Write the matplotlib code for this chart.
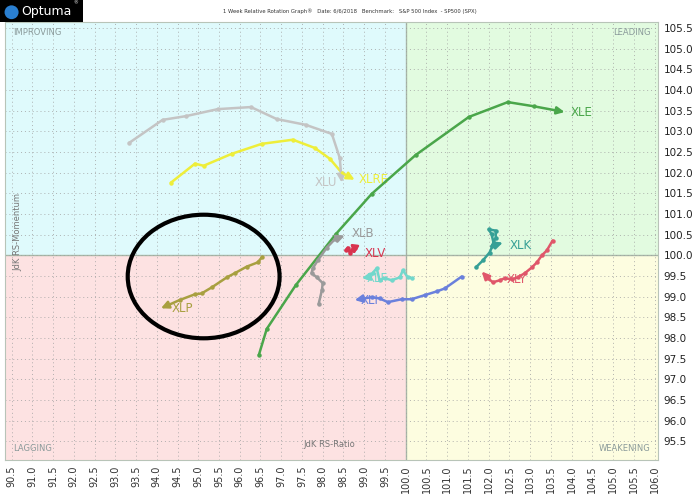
import matplotlib
matplotlib.use("Agg")
import matplotlib.pyplot as plt
from matplotlib.patches import Rectangle, Ellipse

# ---------------- data ----------------
x_ticks = [90.5 + 0.5 * i for i in range(32)]
y_ticks = [95.5 + 0.5 * i for i in range(21)]

XLE_x = [96.46, 96.65, 97.35, 98.31, 99.18, 100.24, 101.52, 102.46, 103.08, 103.83]
XLE_y = [97.59, 98.22, 99.28, 100.51, 101.49, 102.43, 103.35, 103.71, 103.61, 103.47]

XLU_x = [93.33, 94.14, 94.70, 95.47, 96.27, 96.89, 97.59, 98.22, 98.41, 98.46]
XLU_y = [102.72, 103.28, 103.37, 103.54, 103.59, 103.30, 103.16, 102.94, 102.36, 101.76]

XLRE_x = [94.34, 94.92, 95.13, 95.81, 96.53, 97.28, 97.81, 98.17, 98.46, 98.77]
XLRE_y = [101.76, 102.22, 102.17, 102.46, 102.70, 102.80, 102.60, 102.34, 102.00, 101.83]

XLB_x = [97.90, 97.98, 98.00, 97.86, 97.73, 97.76, 97.88, 98.10, 98.29, 98.53]
XLB_y = [98.82, 99.16, 99.33, 99.47, 99.57, 99.69, 99.88, 100.19, 100.39, 100.48]

XLV_x = [98.55, 98.60, 98.65, 98.70, 98.77, 98.75]
XLV_y = [100.12, 100.19, 100.07, 100.14, 100.19, 100.02]

XLF_x = [100.14, 100.05, 99.93, 99.86, 99.66, 99.49, 99.37, 99.30, 99.20, 99.06, 98.94]
XLF_y = [99.45, 99.47, 99.64, 99.47, 99.40, 99.45, 99.40, 99.69, 99.57, 99.47, 99.45]

XLI_x = [101.35, 100.94, 100.75, 100.46, 100.14, 99.90, 99.57, 99.37, 99.18, 98.77]
XLI_y = [99.49, 99.20, 99.13, 99.04, 98.94, 98.94, 98.87, 98.96, 98.99, 98.92]

XLK_x = [101.69, 101.86, 102.02, 102.12, 102.07, 102.00, 102.17, 102.17, 102.07, 102.34]
XLK_y = [99.71, 99.88, 100.07, 100.29, 100.51, 100.63, 100.60, 100.43, 100.22, 100.31]

XLY_x = [103.54, 103.40, 103.28, 103.16, 103.04, 102.87, 102.70, 102.55, 102.39, 102.27, 102.10, 101.98, 101.83]
XLY_y = [100.36, 100.12, 100.00, 99.83, 99.71, 99.57, 99.47, 99.42, 99.45, 99.40, 99.35, 99.45, 99.61]

XLP_x = [96.53, 96.43, 96.17, 95.88, 95.69, 95.33, 95.08, 94.92, 94.55, 94.10]
XLP_y = [99.95, 99.83, 99.73, 99.57, 99.47, 99.23, 99.08, 99.06, 98.92, 98.72]

series = [
    ("XLE", XLE_x, XLE_y, "#4aa64a", (0.15, 0.0), "left"),
    ("XLU", XLU_x, XLU_y, "#c4c4c4", (-0.12, 0.0), "right"),
    ("XLRE", XLRE_x, XLRE_y, "#eeee3a", (0.1, 0.0), "left"),
    ("XLB", XLB_x, XLB_y, "#9a9a9a", (0.17, 0.05), "left"),
    ("XLV", XLV_x, XLV_y, "#d8344f", (0.25, 0.02), "left"),
    ("XLF", XLF_x, XLF_y, "#72d8cc", (0.12, 0.0), "left"),
    ("XLI", XLI_x, XLI_y, "#6a80dc", (0.15, -0.02), "left"),
    ("XLK", XLK_x, XLK_y, "#36a096", (0.17, -0.07), "left"),
    ("XLY", XLY_x, XLY_y, "#e0566a", (0.6, -0.2), "left"),
    ("XLP", XLP_x, XLP_y, "#a8a040", (0.25, 0.0), "left"),
]

ellipse_center = (95.13, 99.49)
ellipse_w, ellipse_h = 3.66, 2.99

xlim = (90.34, 106.08)
ylim = (95.05, 105.65)
center = 100.0

# ---------------- figure ----------------
fig = plt.figure(figsize=(7.0, 4.95), dpi=100)
ax = fig.add_axes([0.007, 0.0707, 0.933, 0.885])
ax.set_xlim(*xlim)
ax.set_ylim(*ylim)

quads = [
    (xlim[0], center, center - xlim[0], ylim[1] - center, "#dffafc"),
    (center, center, xlim[1] - center, ylim[1] - center, "#e2fbe0"),
    (xlim[0], ylim[0], center - xlim[0], center - ylim[0], "#fde2e2"),
    (center, ylim[0], xlim[1] - center, center - ylim[0], "#fdfde0"),
]
for x0, y0, w, h, c in quads:
    ax.add_patch(Rectangle((x0, y0), w, h, facecolor=c, edgecolor="none", zorder=0))

ax.axvline(center, color="#a8b8a8", lw=1.0, zorder=1)
ax.axhline(center, color="#a8b8a8", lw=1.0, zorder=1)

ax.set_xticks(x_ticks)
ax.set_yticks(y_ticks)
ax.set_xticklabels([f"{v:.1f}" for v in x_ticks], rotation=90, fontsize=7, color="#333333")
ax.set_yticklabels([f"{v:.1f}" for v in y_ticks], fontsize=7.5, color="#222222")
ax.yaxis.tick_right()
ax.tick_params(length=0, pad=4)
ax.grid(True, color="#a0a0a0", linestyle=(0, (1, 3)), lw=0.7, alpha=0.8, zorder=1)
for s in ax.spines.values():
    s.set_color("#b8c4b8")
    s.set_linewidth(0.8)

for name, xs, ys, col, off, ha in series:
    ax.plot(xs[:-1], ys[:-1], color=col, lw=1.8, zorder=3, solid_capstyle="round")
    ax.plot(xs[:-1], ys[:-1], "o", color=col, ms=2.2, zorder=3)
    ax.annotate("", xy=(xs[-1], ys[-1]), xytext=(xs[-2], ys[-2]),
                arrowprops=dict(arrowstyle="-|>,head_length=0.45,head_width=0.22",
                                color=col, lw=1.8, shrinkA=0, shrinkB=0), zorder=4)
    ax.text(xs[-1] + off[0], ys[-1] + off[1], name, color=col, fontsize=8.5,
            ha=ha, va="center", zorder=2)

ax.add_patch(Ellipse(ellipse_center, ellipse_w, ellipse_h, fill=False,
                     edgecolor="black", lw=3, zorder=5))

# quadrant labels
qc = "#8a9a9a"
ax.text(0.012, 0.985, "IMPROVING", transform=ax.transAxes, fontsize=6, color=qc, va="top", ha="left")
ax.text(0.988, 0.985, "LEADING", transform=ax.transAxes, fontsize=6, color=qc, va="top", ha="right")
ax.text(0.012, 0.015, "LAGGING", transform=ax.transAxes, fontsize=6, color=qc, va="bottom", ha="left")
ax.text(0.988, 0.015, "WEAKENING", transform=ax.transAxes, fontsize=6, color=qc, va="bottom", ha="right")
ax.text(0.497, 0.035, "JdK RS-Ratio", transform=ax.transAxes, fontsize=6, color="#777777", ha="center", va="center")
ax.text(0.02, 0.52, "JdK RS-Momentum", transform=ax.transAxes, fontsize=6, color="#777777",
        rotation=90, ha="center", va="center")

# header
fig.text(0.5, 0.978, "1 Week Relative Rotation Graph\u00ae   Date: 6/6/2018   Benchmark:   S&P 500 Index  - SP500 (SPX)",
         fontsize=3.8, color="#333333", ha="center", va="center")
logo_ax = fig.add_axes([0.0, 0.955, 0.118, 0.045])
logo_ax.set_xlim(0, 1)
logo_ax.set_ylim(0, 1)
logo_ax.axis("off")
logo_ax.add_patch(Rectangle((0, 0), 1, 1, facecolor="black", edgecolor="none"))
logo_ax.add_patch(Ellipse((0.14, 0.45), 0.17, 0.62, facecolor="#2a7fd0", edgecolor="none"))
logo_ax.text(0.26, 0.48, "Optuma", color="white", fontsize=9, ha="left", va="center")
logo_ax.text(0.95, 0.85, "\u00ae", color="white", fontsize=3.5, ha="right", va="center")

fig.savefig("out.png", dpi=100, facecolor="white")
